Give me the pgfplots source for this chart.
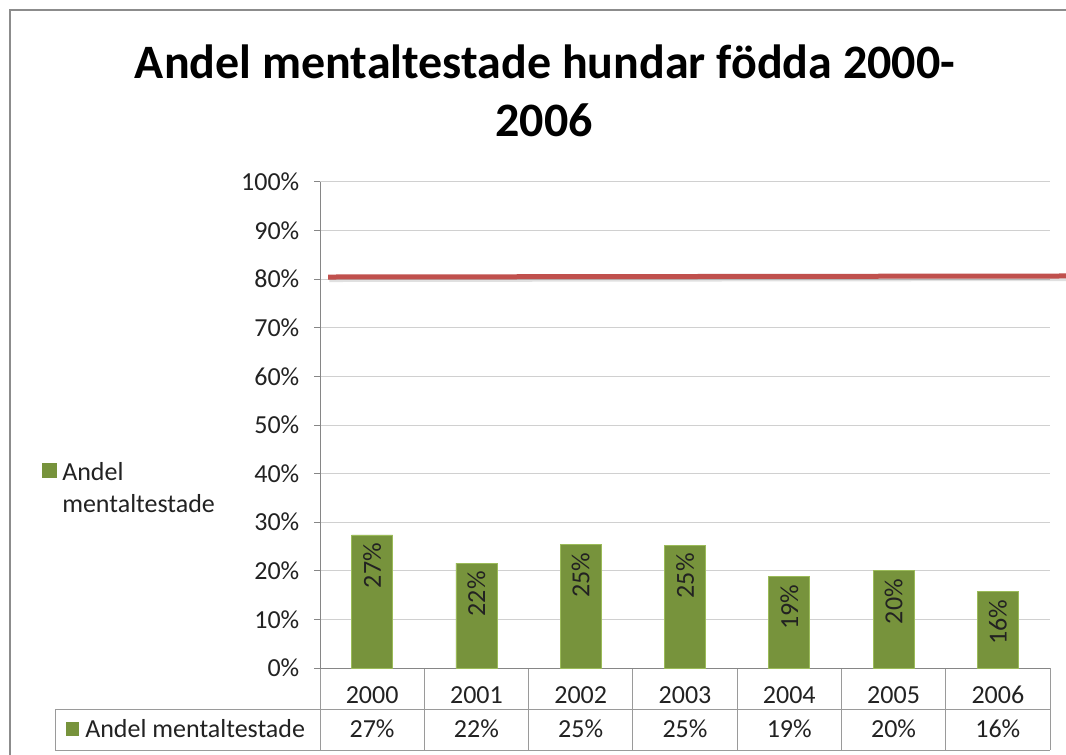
\documentclass[border=0pt]{standalone}
\usepackage{pgfplots}
\pgfplotsset{compat=1.18}
\usepackage{fontspec}
\setmainfont{Carlito}
\definecolor{barg}{HTML}{77933C}
\definecolor{baredge}{HTML}{9BBB59}
\definecolor{redl}{HTML}{C0504D}
\definecolor{gridc}{HTML}{D0D0D0}
\definecolor{axc}{HTML}{868686}
\definecolor{tabc}{HTML}{9A9A9A}
\definecolor{framec}{HTML}{8C8C8C}
\definecolor{txt}{HTML}{222222}
\newcommand{\lbl}{\fontsize{19.5}{23}\selectfont}
\begin{document}
\begin{tikzpicture}
\path[use as bounding box] (0,0) rectangle (799.5pt,-566.25pt);
\begin{scope}[x=0.75pt,y=-0.75pt]
\draw[framec, line width=1.5pt] (10,755) -- (10,10) -- (1066,10);
\node[font=\fontsize{36}{43}\selectfont\bfseries] at (545,62) {Andel mentaltestade hundar födda 2000-};
\node[font=\fontsize{36}{43}\selectfont\bfseries] at (544,120) {2006};
% legend
\fill[barg] (42,463) rectangle (57,478);
\node[anchor=west, font=\lbl, inner sep=0pt, txt] at (62,472) {Andel};
\node[anchor=west, font=\lbl, inner sep=0pt, txt] at (62,504) {mentaltestade};
% data table lines
\draw[tabc, line width=0.75pt] (55,709) -- (1050,709);
\draw[tabc, line width=0.75pt] (55,750) -- (1050,750);
\draw[tabc, line width=0.75pt] (55,709) -- (55,750);
\foreach \k in {0,...,7}{
  \draw[tabc, line width=0.75pt] ({320+\k*104.29},668) -- ({320+\k*104.29},750);
}
\fill[barg] (66,722) rectangle (79,736);
\node[anchor=west, font=\lbl, inner sep=0pt, txt] at (85,729) {Andel mentaltestade};
\foreach \v [count=\k from 0] in {27,22,25,25,19,20,16}{
  \node[font=\lbl, txt] at ({372.1+\k*104.29},729) {\v\%};
}
\end{scope}
\begin{axis}[
  at={(240pt,-136.5pt)}, anchor=north west,
  scale only axis, width=547.5pt, height=364.5pt,
  xmin=-0.5, xmax=6.5, ymin=0, ymax=100,
  clip=false,
  axis lines=left,
  axis line style={axc, -, line width=0.75pt},
  ytick={0,10,...,100},
  yticklabels={0\%,10\%,20\%,30\%,40\%,50\%,60\%,70\%,80\%,90\%,100\%},
  xtick={0,...,6},
  xticklabels={2000,2001,2002,2003,2004,2005,2006},
  major x tick style={draw=none},
  xticklabel style={anchor=center, yshift=-15.5pt},
  yticklabel style={xshift=-7.5pt},
  tick align=outside,
  major tick length=4.5pt,
  y tick style={axc, line width=0.75pt},
  ymajorgrids,
  grid style={gridc, line width=0.75pt},
  tick label style={font=\lbl, txt},
  /pgf/number format/assume math mode=true,
]
\addplot[ybar, bar width=30.75pt, fill=barg, draw=baredge, line width=0.5pt,
  nodes near coords={\pgfmathprintnumber[fixed,precision=0]{\pgfplotspointmeta}\%},
  nodes near coords align={anchor=east},
  every node near coord/.append style={rotate=90, anchor=east, font=\lbl, txt, inner xsep=6pt},
  point meta=y]
  coordinates {(0,27.4) (1,21.6) (2,25.4) (3,25.3) (4,18.9) (5,20.0) (6,15.8)};
\addplot[black, opacity=0.12, line width=3.5pt, no marks, forget plot]
  coordinates {(-0.41,79.9) (6.653,80.1)};
\addplot[redl, line width=3.75pt, no marks]
  coordinates {(-0.423,80.45) (6.653,80.66)};
\end{axis}
\end{tikzpicture}
\end{document}
